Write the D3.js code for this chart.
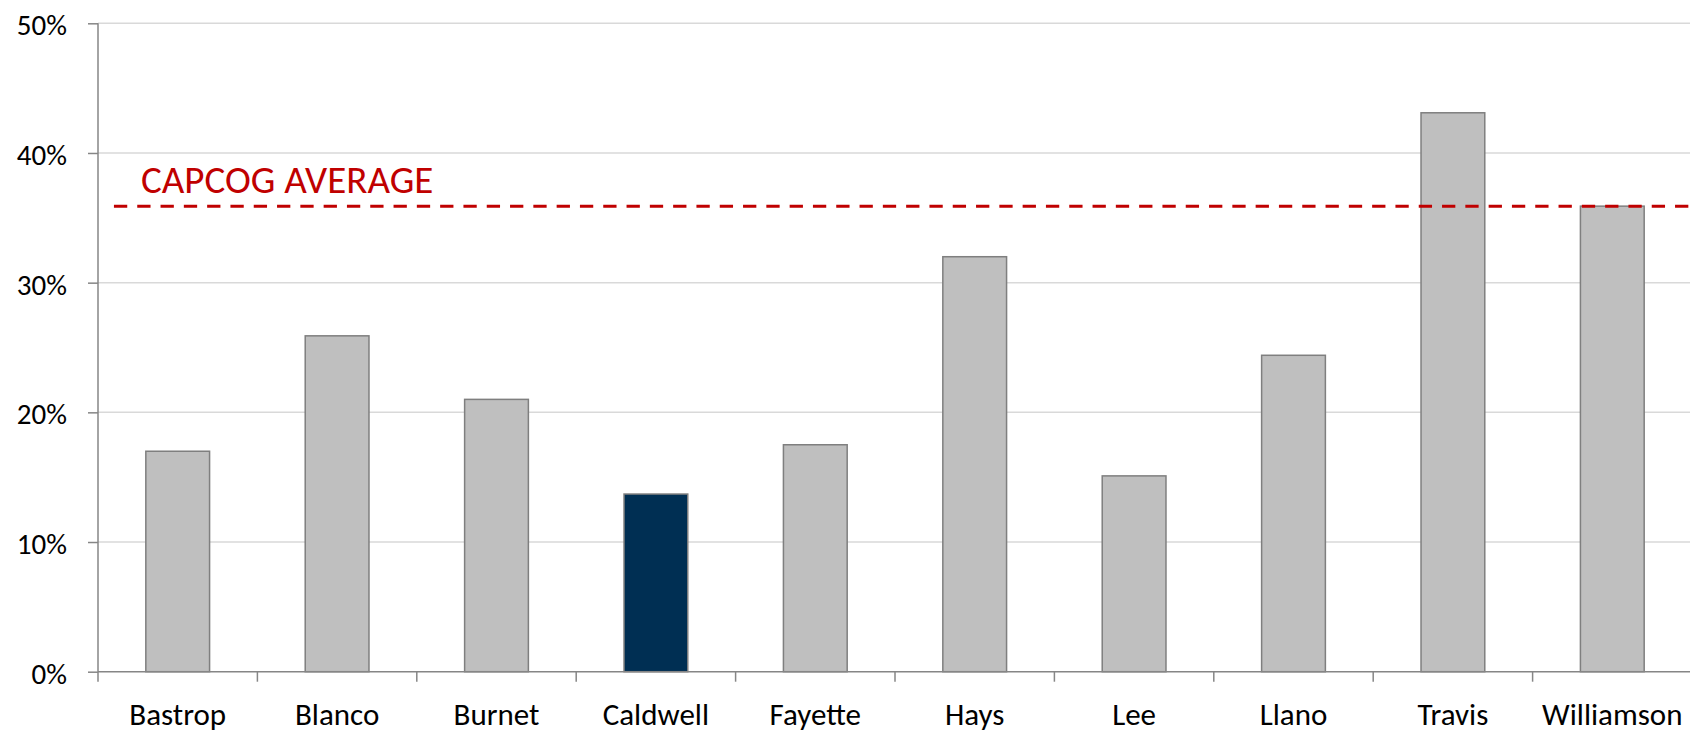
<!DOCTYPE html>
<html>
<head>
<meta charset="utf-8">
<script src="https://cdn.jsdelivr.net/npm/d3@7"></script>
<style>
  body { margin: 0; background: #fff; }
  svg { display: block; font-family: Calibri, Carlito, Lato, sans-serif; }
</style>
</head>
<body>
<svg class="bar-chart"></svg>
<script>
var counties = ['Bastrop', 'Blanco', 'Burnet', 'Caldwell', 'Fayette', 'Hays', 'Lee', 'Llano', 'Travis', 'Williamson'];
var shares = [17.0, 25.9, 21.0, 13.7, 17.5, 32.0, 15.1, 24.4, 43.1, 35.9];
var highlight = ['Caldwell'];
var yTicks = [0, 10, 20, 30, 40, 50];
var capcogAverage = 35.9;
var averageLabel = 'CAPCOG AVERAGE';

var W = 1690, H = 732;
var plot = {left: 98, right: 1692, top: 23.3, bottom: 671.7};

var svg = d3.select('.bar-chart')
	.attr('width', W)
	.attr('height', H);

var x = d3.scaleBand()
	.domain(counties)
	.range([plot.left, plot.right])
	.paddingInner(0.6)
	.paddingOuter(0.3);

var y = d3.scaleLinear()
	.domain([0, 50])
	.range([plot.bottom, plot.top]);

var step = x.step();

// gridlines
svg.append('g')
	.selectAll('line')
	.data(yTicks.slice(1))
	.enter().append('line')
	  .attr('x1', plot.left)
	  .attr('x2', W)
	  .attr('y1', function(d) { return y(d) })
	  .attr('y2', function(d) { return y(d) })
	  .attr('stroke', '#d9d9d9')
	  .attr('stroke-width', 1.5);

// y axis
var yAxis = svg.append('g')
	.attr('transform', 'translate(' + plot.left + ',0)')
	.call(d3.axisLeft(y).tickValues(yTicks).tickSize(10).tickPadding(21)
		.tickFormat(function(d) { return d + '%' }));
yAxis.select('.domain').remove();
yAxis.selectAll('.tick line').attr('stroke', '#868686').attr('stroke-width', 1.5);
yAxis.selectAll('.tick text')
	.attr('fill', '#000')
	.attr('font-size', 29)
	.attr('font-family', 'Calibri, Carlito, Lato, sans-serif')
	.attr('dy', '0.4em');
yAxis.append('line')
	.attr('y1', y(50))
	.attr('y2', y(0))
	.attr('stroke', '#868686')
	.attr('stroke-width', 1.5);

// bars
svg.append('g')
	.selectAll('rect')
	.data(counties)
	.enter().append('rect')
	  .attr('x', function(d) { return x(d) })
	  .attr('width', x.bandwidth())
	  .attr('y', function(d, i) { return y(shares[i]) })
	  .attr('height', function(d, i) { return y(0) - y(shares[i]) })
	  .attr('fill', function(d) { return highlight.indexOf(d) > -1 ? '#002f53' : '#bfbfbf' })
	  .attr('stroke', '#7f7f7f')
	  .attr('stroke-width', 1.5);

// x axis line + category ticks on band edges
svg.append('line')
	.attr('x1', plot.left)
	.attr('x2', W)
	.attr('y1', y(0))
	.attr('y2', y(0))
	.attr('stroke', '#868686')
	.attr('stroke-width', 1.5);

svg.append('g')
	.selectAll('line')
	.data(d3.range(counties.length + 1))
	.enter().append('line')
	  .attr('x1', function(i) { return plot.left + i * step })
	  .attr('x2', function(i) { return plot.left + i * step })
	  .attr('y1', y(0))
	  .attr('y2', y(0) + 10)
	  .attr('stroke', '#868686')
	  .attr('stroke-width', 1.5);

svg.append('g')
	.selectAll('text')
	.data(counties)
	.enter().append('text')
	  .attr('x', function(d) { return x(d) + x.bandwidth() / 2 })
	  .attr('y', 725)
	  .attr('text-anchor', 'middle')
	  .attr('font-size', 31)
	  .attr('fill', '#000')
	  .text(function(d) { return d });

// average line
svg.append('line')
	.attr('x1', x(counties[0]) - x.bandwidth() / 2)
	.attr('x2', x(counties[counties.length - 1]) + x.bandwidth() * 2.1)
	.attr('y1', y(capcogAverage))
	.attr('y2', y(capcogAverage))
	.attr('stroke', '#c00000')
	.attr('stroke-width', 3)
	.attr('stroke-dasharray', '13.3,10');

svg.append('text')
	.attr('x', 141)
	.attr('y', 193)
	.attr('font-size', 39)
	.attr('fill', '#c00000')
	.text(averageLabel);
</script>
</body>
</html>
